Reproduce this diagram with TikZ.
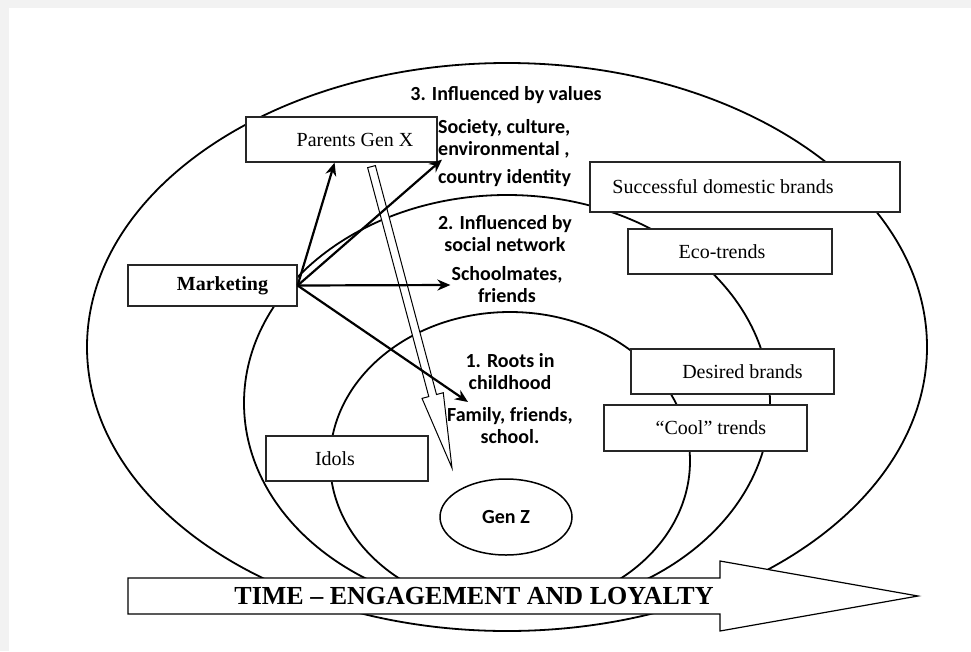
\documentclass[tikz,border=0pt]{standalone}
\usepackage{fontspec}
\setmainfont{Liberation Serif}
\newfontfamily\labelfont{Carlito}
\usetikzlibrary{shapes.geometric, arrows, arrows.meta, positioning, calc}
\definecolor{bggray}{HTML}{F2F2F2}
\tikzstyle{ring} = [draw=black, line width=1.8pt]
\tikzstyle{box} = [rectangle, draw=black!85, line width=1.2pt, fill=white, minimum height=45pt, font=\fontsize{20}{24}\selectfont]
\tikzstyle{tag} = [align=center, inner sep=1pt, font=\labelfont\bfseries\fontsize{20}{22}\selectfont]
\tikzstyle{arrow} = [line width=2.2pt,->,>={Stealth[length=13pt,width=11pt]}]
\tikzstyle{hollow} = [draw=black, line width=1pt, fill=white, line join=miter]

\begin{document}
\begin{tikzpicture}[x=1pt, y=-1pt]
    % 背景
    \useasboundingbox (0,0) rectangle (971,651);
    \fill[bggray] (0,0) rectangle (971,651);
    \fill[white] (9,8) rectangle (971,651);

    % 椭圆
    \draw[ring] (507,347) ellipse [x radius=420pt, y radius=284pt];
    \draw[ring] (507,403) ellipse [x radius=263pt, y radius=208pt];
    \draw[ring] (510,461) ellipse [x radius=180pt, y radius=149pt];

    % 定义节点
    \node (pgx) [box, minimum width=191pt] at (341.5,139.5) {\hspace*{27pt}Parents Gen X};
    \node (mkt) [box, minimum width=169pt, minimum height=41pt, font=\fontsize{20}{24}\selectfont\bfseries] at (212.5,285.5) {\hspace*{20pt}Marketing};
    \node (sdb) [box, minimum width=310pt, minimum height=50pt] at (745,187) {Successful domestic brands\hspace*{44pt}};
    \node (eco) [box, minimum width=204pt] at (730,251.5) {Eco-trends\hspace*{16pt}};
    \node (des) [box, minimum width=203pt] at (732.5,371.5) {\hspace*{20pt}Desired brands};
    \node (cool) [box, minimum width=203pt, minimum height=46pt] at (705.5,428) {\hspace*{11pt}“Cool” trends};
    \node (idols) [box, minimum width=162pt] at (347,458.5) {Idols\hspace*{24pt}};

    \node (lv3) [tag] at (506,95) {3. Influenced by values};
    \node (soc) [tag, anchor=west, align=left] at (437,139) {Society, culture,\\environmental ,};
    \node (cty) [tag, anchor=west] at (437,178) {country identity};
    \node (lv2) [tag] at (505,234) {2. Influenced by\\social network};
    \node (school) [tag] at (507,285) {Schoolmates,\\friends};
    \node (lv1) [tag] at (510,372) {1. Roots in\\childhood};
    \node (fam) [tag] at (510,426) {Family, friends,\\school.};
    \node (genz) [ellipse, draw=black, line width=1.5pt, fill=white, minimum width=132pt, minimum height=76pt, font=\labelfont\bfseries\fontsize{20}{22}\selectfont] at (506,517) {Gen Z};

    % 空心箭头
    \coordinate (gxtop) at ([xshift=30pt,yshift=-4pt]pgx.south);
    \coordinate (gxtip) at (452,468);
    \coordinate (gxhead) at ($(gxtip)!75pt!(gxtop)$);
    \draw[hollow] ($(gxtop)!4pt!90:(gxtip)$) -- ($(gxhead)!4pt!90:(gxtip)$) -- ($(gxhead)!11pt!90:(gxtip)$) -- (gxtip)
        -- ($(gxhead)!11pt!-90:(gxtip)$) -- ($(gxhead)!4pt!-90:(gxtip)$) -- ($(gxtop)!4pt!-90:(gxtip)$) -- cycle;

    % 连接线
    \coordinate (famtip) at (468,402);
    \draw [arrow] (mkt.east) -- (pgx);
    \draw [arrow] (mkt.east) -- ([xshift=5pt]soc.south west);
    \draw [arrow] (mkt.east) -- (school.west);
    \draw [arrow] (mkt.east) -- (famtip);

    % 时间箭头
    \draw[hollow, line width=1.2pt] (128,578) -- (720,578) -- (720,561) -- (918,596) -- (720,631) -- (720,614) -- (128,614) -- cycle;
    \node (time) [font=\fontsize{26}{30}\selectfont\bfseries] at (474,596) {TIME – ENGAGEMENT AND LOYALTY};
\end{tikzpicture}
\end{document}
